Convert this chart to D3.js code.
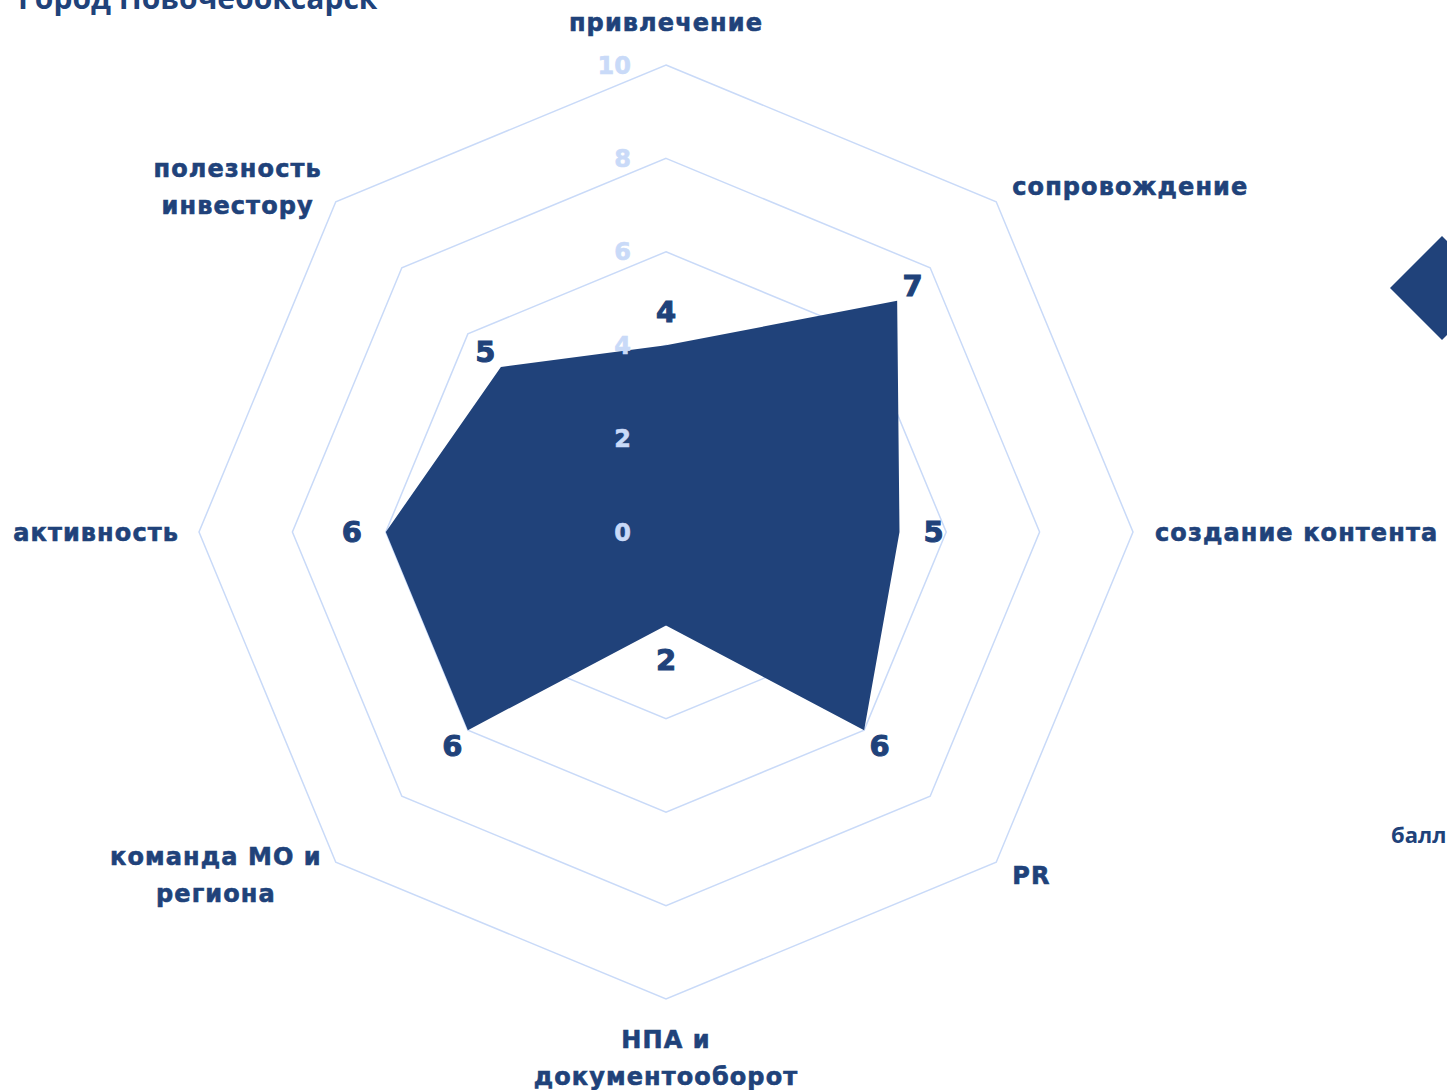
<!DOCTYPE html>
<html lang="ru">
<head>
<meta charset="UTF-8">
<title>Город Новочебоксарск</title>
<script src="https://d3js.org/d3.v7.min.js"></script>
<style>
  body { margin: 0; background: #fff; overflow: hidden; }
</style>
</head>
<body>
<svg id="main" width="1447" height="1090"></svg>
<script>
// data
const categories = [
  ['привлечение'],
  ['сопровождение'],
  ['создание контента'],
  ['PR'],
  ['НПА и', 'документооборот'],
  ['команда МО и', 'региона'],
  ['активность'],
  ['полезность', 'инвестору']
];
const values = [4, 7, 5, 6, 2, 6, 6, 5];
const tickValues = [0, 2, 4, 6, 8, 10];
const gridLevels = [2, 4, 6, 8, 10];
const titleText = 'Город Новочебоксарск';
const legendText = 'баллы';

const dark = '#20427a';
const light = '#c9daf8';
const labelFont = '"DejaVu Sans", sans-serif';

let svg = d3.select('#main');
let cx = 666, cy = 532, R = 467;

let r = d3.scaleLinear().domain([0, 10]).range([0, R]);
let angle = d3.scaleLinear().domain([0, categories.length]).range([0, 2 * Math.PI]);

function pt(i, v) {
  let a = angle(i);
  return [cx + r(v) * Math.sin(a), cy - r(v) * Math.cos(a)];
}

// title (cut off at top)
svg.append('text')
  .attr('x', 18).attr('y', 9)
  .attr('font-family', '"Open Sans", sans-serif')
  .attr('font-weight', 'bold')
  .attr('font-size', 30)
  .attr('fill', dark)
  .text(titleText);

// grid octagons
let line = d3.line();
svg.append('g').selectAll('path')
  .data(gridLevels)
  .enter()
  .append('path')
  .attr('d', d => line(categories.map((c, i) => pt(i, d))) + 'Z')
  .attr('fill', 'none')
  .attr('stroke', light)
  .attr('stroke-width', 1.5);

// data area
svg.append('path')
  .attr('d', line(values.map((v, i) => pt(i, v))) + 'Z')
  .attr('fill', dark);

// tick labels
svg.append('g').selectAll('text')
  .data(tickValues)
  .enter()
  .append('text')
  .attr('x', cx - 35)
  .attr('y', d => cy - r(d))
  .attr('dy', '0.36em')
  .attr('text-anchor', 'end')
  .attr('font-family', labelFont)
  .attr('font-weight', 'bold')
  .attr('font-size', 24)
  .attr('stroke', light)
  .attr('stroke-width', 0.6)
  .attr('fill', light)
  .text(d => d);

// value labels, pushed outward from each vertex
function off(i) { return i % 2 === 0 ? 34 : 22; }
svg.append('g').selectAll('text')
  .data(values)
  .enter()
  .append('text')
  .attr('x', (d, i) => pt(i, d)[0] + off(i) * Math.sin(angle(i)))
  .attr('y', (d, i) => pt(i, d)[1] - off(i) * Math.cos(angle(i)))
  .attr('dy', '0.36em')
  .attr('text-anchor', 'middle')
  .attr('font-family', labelFont)
  .attr('font-weight', 'bold')
  .attr('font-size', 29)
  .attr('stroke', dark)
  .attr('stroke-width', 1)
  .attr('fill', dark)
  .text(d => d);

// category labels
let lineH = 37;
let catG = svg.append('g');
categories.forEach(function(lines, i) {
  let a = angle(i);
  let sx = Math.sin(a), sy = -Math.cos(a);
  let v = pt(i, 10);
  let g = catG.append('g');
  let texts = g.selectAll('text')
    .data(lines)
    .enter()
    .append('text')
    .attr('text-anchor', 'middle')
    .attr('font-family', labelFont)
    .attr('font-weight', 'bold')
    .attr('font-size', 24)
    .attr('letter-spacing', 1.1)
    .attr('stroke', dark)
    .attr('stroke-width', 0.6)
    .attr('fill', dark)
    .text(d => d);
  let w = d3.max(texts.nodes(), n => n.getComputedTextLength());
  let h = lines.length * lineH;
  let bx, by; // block center
  if (Math.abs(sx) < 0.01) {
    bx = v[0];
    by = sy < 0 ? v[1] - 30 - h / 2 + 6 : v[1] + 28 + h / 2 - 6;
  } else if (Math.abs(sy) < 0.01) {
    bx = sx > 0 ? v[0] + 22 + w / 2 : v[0] - 20 - w / 2;
    by = v[1];
  } else {
    bx = sx > 0 ? v[0] + 16 + w / 2 : v[0] - 14 - w / 2;
    by = v[1] + (sy < 0 ? -15 : 13);
  }
  texts
    .attr('x', bx)
    .attr('y', (d, j) => by - h / 2 + lineH / 2 + j * lineH)
    .attr('dy', '0.36em');
});

// legend (partly off-canvas on the right)
svg.append('path')
  .attr('d', d3.symbol().type(d3.symbolDiamond2).size(6900)())
  .attr('transform', 'translate(1442,288)')
  .attr('fill', dark);

svg.append('text')
  .attr('x', 1391).attr('y', 843)
  .attr('font-family', '"Open Sans", sans-serif')
  .attr('font-weight', 'bold')
  .attr('font-size', 22)
  .attr('fill', dark)
  .text(legendText);
</script>
</body>
</html>
